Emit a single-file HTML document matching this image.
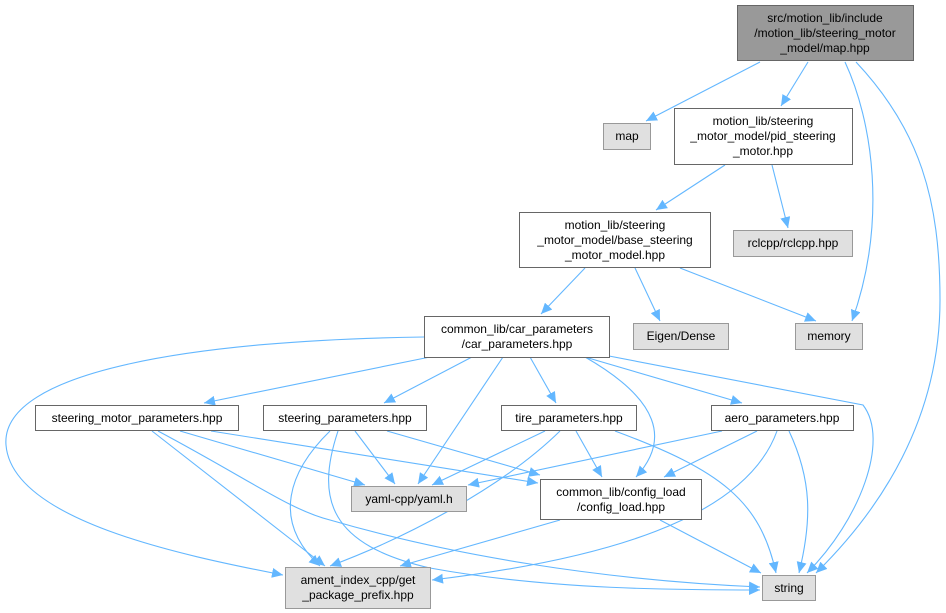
<!DOCTYPE html>
<html><head><meta charset="utf-8"><style>
html,body{margin:0;padding:0;background:#fff;}
svg{display:block;}
text{font-family:"Liberation Sans",Arial,sans-serif;font-size:12px;fill:#000;}
</style></head><body>
<svg width="946" height="613" viewBox="0 0 946 613" xmlns="http://www.w3.org/2000/svg">
<defs>
<marker id="a" markerUnits="userSpaceOnUse" markerWidth="12" markerHeight="10" refX="11" refY="5" orient="auto">
<path d="M0,0 L11,5 L0,10 z" fill="#63b7ff"/>
</marker>
</defs>
<g fill="none" stroke="#63b7ff" stroke-width="1.1" marker-end="url(#a)">
<path d="M760,62 L646,121"/>
<path d="M808,62 L781,106"/>
<path d="M845,62 C872,120 888,220 852,321"/>
<path d="M856,62 C920,130 940,200 940,300 C940,420 880,510 816,573"/>
<path d="M725,165 L656,210"/>
<path d="M772,165 L788,228"/>
<path d="M585,268 L541,314"/>
<path d="M635,268 L660,321"/>
<path d="M680,268 L816,321"/>
<path d="M430,357 L204,403"/>
<path d="M472,357 L384,403"/>
<path d="M503,357 L418,484"/>
<path d="M530,357 L556,403"/>
<path d="M585,357 C660,400 670,440 636,477"/>
<path d="M585,357 L742,403"/>
<path d="M609,356 L863,405 C890,440 860,520 807,573"/>
<path d="M424,337 C200,340 0,370 6,445 C12,520 180,555 283,575"/>
<path d="M180,431 L365,485"/>
<path d="M211,431 L538,483"/>
<path d="M152,431 L325,566"/>
<path d="M158,431 C250,480 290,510 330,520 C450,555 600,580 760,587"/>
<path d="M355,431 L395,484"/>
<path d="M387,431 L540,475"/>
<path d="M330,431 C290,470 270,520 320,566"/>
<path d="M338,431 C315,500 330,545 430,568 C550,590 680,590 760,590"/>
<path d="M545,431 L432,485"/>
<path d="M576,431 L602,477"/>
<path d="M560,431 C500,490 400,540 330,566"/>
<path d="M615,431 C720,470 760,500 776,573"/>
<path d="M722,431 L468,485"/>
<path d="M757,431 L664,477"/>
<path d="M777,431 C745,520 600,560 432,580"/>
<path d="M789,431 C812,480 812,520 799,573"/>
<path d="M560,520 L400,566"/>
<path d="M660,520 L761,573"/>
</g>
<g stroke-width="1">
<rect x="737.5" y="5.5" width="176" height="55" fill="#999" stroke="#666"/>
<rect x="603.5" y="123.5" width="47" height="26" fill="#e0e0e0" stroke="#999"/>
<rect x="674.5" y="108.5" width="178" height="56" fill="#fff" stroke="#666"/>
<rect x="733.5" y="230.5" width="119" height="26" fill="#e0e0e0" stroke="#999"/>
<rect x="519.5" y="212.5" width="191" height="55" fill="#fff" stroke="#666"/>
<rect x="424.5" y="316.5" width="185" height="41" fill="#fff" stroke="#666"/>
<rect x="633.5" y="323.5" width="95" height="26" fill="#e0e0e0" stroke="#999"/>
<rect x="795.5" y="323.5" width="67" height="26" fill="#e0e0e0" stroke="#999"/>
<rect x="35.5" y="405.5" width="203" height="25" fill="#fff" stroke="#666"/>
<rect x="263.5" y="405.5" width="163" height="25" fill="#fff" stroke="#666"/>
<rect x="501.5" y="405.5" width="135" height="25" fill="#fff" stroke="#666"/>
<rect x="711.5" y="405.5" width="142" height="25" fill="#fff" stroke="#666"/>
<rect x="351.5" y="486.5" width="115" height="25" fill="#e0e0e0" stroke="#999"/>
<rect x="540.5" y="479.5" width="161" height="40" fill="#fff" stroke="#666"/>
<rect x="285.5" y="567.5" width="145" height="41" fill="#e0e0e0" stroke="#999"/>
<rect x="762.5" y="575.5" width="53" height="25" fill="#e0e0e0" stroke="#999"/>
</g>
<g text-anchor="middle">
<text x="825" y="22">src/motion_lib/include</text>
<text x="825" y="37">/motion_lib/steering_motor</text>
<text x="825" y="52">_model/map.hpp</text>
<text x="627" y="140">map</text>
<text x="763" y="125">motion_lib/steering</text>
<text x="763" y="140">_motor_model/pid_steering</text>
<text x="763" y="155">_motor.hpp</text>
<text x="793" y="247">rclcpp/rclcpp.hpp</text>
<text x="615" y="229">motion_lib/steering</text>
<text x="615" y="244">_motor_model/base_steering</text>
<text x="615" y="259">_motor_model.hpp</text>
<text x="517" y="333">common_lib/car_parameters</text>
<text x="517" y="348">/car_parameters.hpp</text>
<text x="681" y="340">Eigen/Dense</text>
<text x="829" y="340">memory</text>
<text x="137" y="422">steering_motor_parameters.hpp</text>
<text x="345" y="422">steering_parameters.hpp</text>
<text x="569" y="422">tire_parameters.hpp</text>
<text x="782" y="422">aero_parameters.hpp</text>
<text x="409" y="503">yaml-cpp/yaml.h</text>
<text x="621" y="496">common_lib/config_load</text>
<text x="621" y="511">/config_load.hpp</text>
<text x="358" y="584">ament_index_cpp/get</text>
<text x="358" y="599">_package_prefix.hpp</text>
<text x="789" y="592">string</text>
</g>
</svg>
</body></html>
